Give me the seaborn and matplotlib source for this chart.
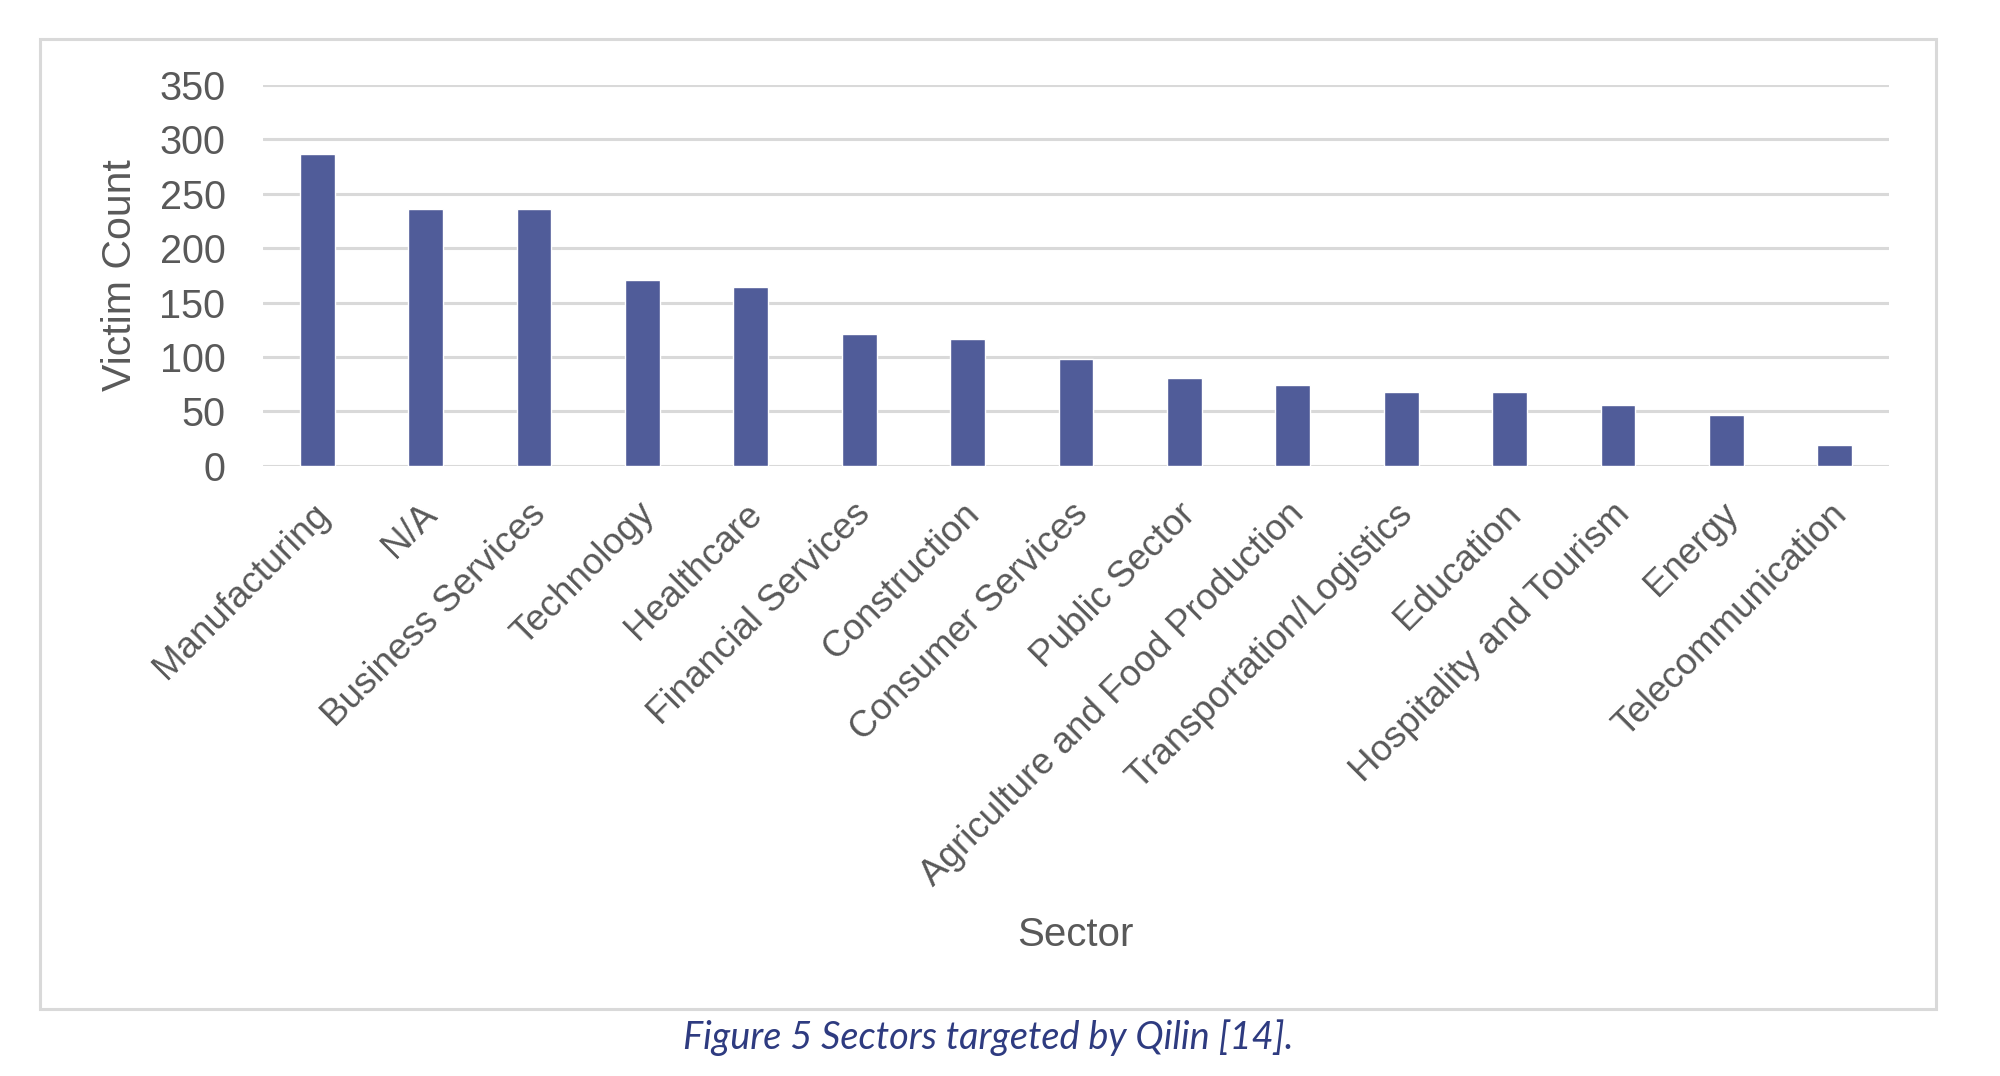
import matplotlib
matplotlib.use("Agg")
import matplotlib.pyplot as plt
import matplotlib.transforms as mtransforms
import seaborn as sns
import pandas as pd
from matplotlib.patches import Rectangle


sectors = ['Manufacturing', 'N/A', 'Business Services', 'Technology', 'Healthcare',
           'Financial Services', 'Construction', 'Consumer Services', 'Public Sector',
           'Agriculture and Food Production', 'Transportation/Logistics', 'Education',
           'Hospitality and Tourism', 'Energy', 'Telecommunication']
victims = [287, 236, 236, 171, 164, 121, 117, 98, 81, 74, 68, 68, 56, 47, 19]
y_ticks = [0, 50, 100, 150, 200, 250, 300, 350]

bar_color = '#505C99'
text_color = '#595959'
grid_color = '#D9D9D9'
caption_color = '#2E3B80'

sns.set_theme(style='white')
plt.rcParams['font.family'] = ['Liberation Sans', 'DejaVu Sans']

df = pd.DataFrame({'Sector': sectors, 'Victim Count': victims})

fig = plt.figure(figsize=(20, 10.76), dpi=100)
ax = fig.add_axes([0.1315, 0.567, 0.813, 0.354])

# chart-area frame like the Excel chart border
fig.patches.append(Rectangle((0.02, 0.0623), 0.948, 0.9015, transform=fig.transFigure,
                             fill=False, edgecolor=grid_color, linewidth=2.2, zorder=0))

sns.barplot(data=df, x='Sector', y='Victim Count', color=bar_color, width=0.32,
            saturation=1, ax=ax, zorder=3)

ax.set_ylim(0, 350)
ax.set_yticks(y_ticks)
ax.yaxis.grid(True, color=grid_color, linewidth=2.2)
ax.set_axisbelow(True)
for s in ax.spines.values():
    s.set_visible(False)
ax.tick_params(axis='both', length=0, colors=text_color)
ax.tick_params(axis='y', pad=27, labelsize=28.5)
ax.tick_params(axis='x', pad=22, labelsize=26.5)
ax.set_xticks(range(len(sectors)))
ax.set_xticklabels(sectors, rotation=45, ha='right', rotation_mode='anchor')
shift = mtransforms.ScaledTranslation(-0.06, 0, fig.dpi_scale_trans)
for lab in ax.get_xticklabels():
    lab.set_transform(lab.get_transform() + shift)

ax.set_ylabel('Victim Count', fontsize=29.5, color=text_color, labelpad=0)
ax.yaxis.set_label_coords(-0.076, 0.5)
ax.set_xlabel('')
fig.text(0.5375, 0.131, 'Sector', fontsize=29, color=text_color, ha='center', va='center')

fig.text(0.494, 0.036, 'Figure 5 Sectors targeted by Qilin [14].', fontsize=27.3,
         style='italic', color=caption_color, ha='center', va='center',
         family=['Lato', 'DejaVu Sans'])

fig.savefig('out.png', dpi=100, facecolor='white')
